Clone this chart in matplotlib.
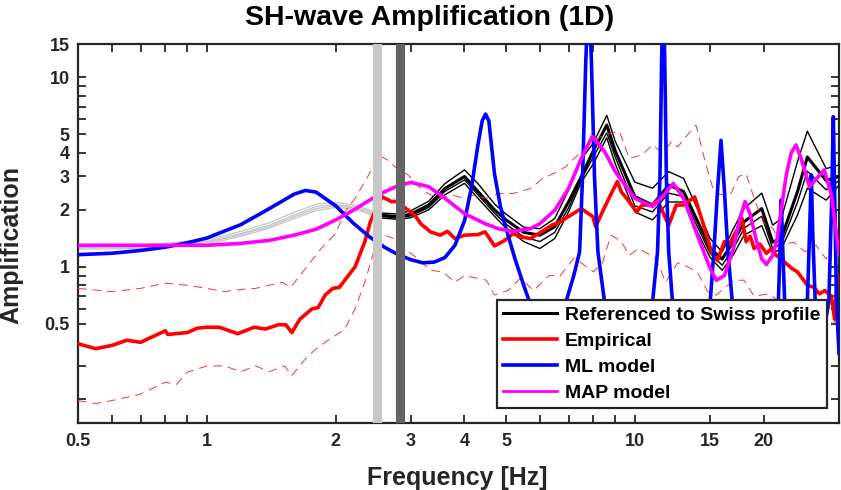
import numpy as np
import matplotlib
matplotlib.use("Agg")
import matplotlib.pyplot as plt
from matplotlib.ticker import FixedLocator, NullFormatter

plt.rcParams['font.family'] = ['Liberation Sans', 'DejaVu Sans']
plt.rcParams['font.weight'] = 'bold'

# Referenced to Swiss profile (grey below 2.5 Hz, black above)
ref_f = [0.5, 0.7, 1.0, 1.2, 1.4, 1.6, 1.8, 2.0, 2.2, 2.4, 2.5, 2.8, 3.0, 3.3, 3.6, 4.0, 4.3, 4.7,
         5.0, 5.5, 6.0, 6.5, 7.0, 7.5, 8.0, 8.6, 9.0, 10, 11, 12, 13, 14, 15, 16, 17, 18, 19.8,
         21, 22, 24, 25.3, 28, 30]
ref_mean = [1.27, 1.28, 1.36, 1.50, 1.66, 1.88, 2.08, 2.14, 2.08, 1.97, 1.88, 1.84, 1.90, 2.12, 2.59,
            3.0, 2.5, 2.0, 1.77, 1.52, 1.47, 1.63, 2.2, 3.0, 4.1, 5.6, 4.1, 2.35, 2.12, 2.7, 2.5,
            1.75, 1.25, 1.1, 1.36, 1.73, 2.03, 1.35, 1.42, 2.5, 3.8, 2.85, 3.0]
ref_hi = [1.29, 1.30, 1.39, 1.54, 1.71, 1.94, 2.14, 2.19, 2.13, 2.0, 1.93, 1.90, 1.98, 2.22, 2.75,
          3.25, 2.75, 2.15, 1.9, 1.62, 1.59, 1.80, 2.54, 3.7, 4.5, 6.3, 4.6, 2.8, 2.6, 3.18, 2.93,
          2.03, 1.41, 1.2, 1.59, 2.03, 2.45, 1.66, 1.8, 3.6, 5.2, 3.3, 3.45]
ref_mid = [1.26, 1.27, 1.34, 1.48, 1.63, 1.84, 2.03, 2.10, 2.05, 1.93, 1.85, 1.81, 1.86, 2.06, 2.5,
           2.88, 2.4, 1.92, 1.68, 1.44, 1.36, 1.52, 2.05, 2.9, 3.8, 5.1, 3.8, 2.1, 1.95, 2.45, 2.35,
           1.63, 1.18, 1.02, 1.25, 1.6, 1.85, 1.25, 1.32, 2.2, 3.2, 2.55, 2.85]
ref_lo = [1.24, 1.25, 1.32, 1.45, 1.60, 1.80, 1.98, 2.06, 2.02, 1.90, 1.82, 1.78, 1.82, 2.0, 2.4,
          2.76, 2.3, 1.85, 1.6, 1.36, 1.25, 1.41, 1.95, 2.8, 3.5, 4.8, 3.5, 1.95, 1.77, 2.2, 2.2,
          1.53, 1.12, 0.96, 1.16, 1.47, 1.65, 1.18, 1.25, 1.88, 2.6, 2.25, 2.7]

# Empirical amplification
emp_f = [0.5, 0.55, 0.6, 0.65, 0.7, 0.75, 0.8, 0.81, 0.9, 0.95, 1.0, 1.07, 1.18, 1.29, 1.37, 1.47,
         1.53, 1.58, 1.65, 1.76, 1.82, 1.89, 1.97, 2.04, 2.1, 2.22, 2.34, 2.41, 2.5, 2.57, 2.7, 2.79,
         2.92, 3.06, 3.16, 3.33, 3.51, 3.65, 3.8, 4.0, 4.3, 4.47, 4.7, 4.97, 5.2, 5.42, 5.7, 6.05,
         6.4, 6.7, 7.1, 7.5, 7.98, 8.1, 8.4, 8.7, 9.1, 9.3, 9.7, 10.1, 10.4, 11.0, 11.3, 12.0, 12.5,
         13.0, 13.8, 14.4, 15.1, 15.6, 16.2, 16.6, 17.0, 17.4, 17.8, 18.2, 18.6, 19.0, 19.6, 20.3,
         20.8, 21.4, 22.0, 22.6, 23.3, 24.0, 25.3, 26.2, 27.0, 27.8, 28.8, 29.3, 29.7, 30]
emp = [0.393, 0.37, 0.385, 0.41, 0.40, 0.43, 0.46, 0.44, 0.45, 0.475, 0.48, 0.48, 0.444, 0.48, 0.47,
       0.495, 0.495, 0.45, 0.53, 0.60, 0.61, 0.71, 0.77, 0.78, 0.85, 1.0, 1.36, 1.73, 2.08, 2.34,
       2.21, 2.22, 2.03, 1.88, 1.69, 1.53, 1.47, 1.54, 1.41, 1.47, 1.48, 1.53, 1.29, 1.38, 1.50,
       1.44, 1.41, 1.53, 1.66, 1.73, 1.88, 2.03, 1.84, 1.63, 1.95, 2.30, 2.82, 2.49, 2.21, 1.95,
       2.12, 2.12, 2.25, 1.66, 2.12, 2.12, 2.34, 1.73, 1.20, 1.08, 1.36, 1.30, 1.45, 1.59, 1.80,
       1.36, 1.45, 1.25, 1.32, 1.18, 1.24, 1.15, 1.10, 1.04, 0.98, 0.94, 0.80, 0.78, 0.72, 0.75,
       0.70, 0.53, 0.85, 0.90]
emp_up_f = [0.5, 0.6, 0.7, 0.8, 0.9, 1.0, 1.1, 1.2, 1.3, 1.5, 1.57, 1.7, 1.85, 2.0, 2.1, 2.22, 2.39,
            2.51, 2.64, 2.78, 2.95, 3.1, 3.28, 3.5, 3.75, 4.0, 4.2, 4.5, 4.8, 5.2, 5.7, 6.1, 6.6,
            6.9, 7.5, 8.0, 8.5, 9.2, 9.7, 10.4, 11.0, 11.6, 12.2, 12.6, 13.3, 13.9, 14.6, 15.3,
            16.0, 16.8, 17.5, 18.2, 19.0, 20.0, 21.0, 22.0, 23.5, 25.0, 26.5, 28.0, 29.0, 30]
emp_up = [0.77, 0.74, 0.77, 0.82, 0.80, 0.77, 0.74, 0.76, 0.77, 0.83, 0.78, 0.98, 1.25, 1.5, 1.95,
          2.30, 3.06, 3.9, 3.67, 3.31, 3.06, 2.70, 2.44, 2.30, 2.39, 2.30, 2.39, 2.30, 2.44, 2.44,
          2.59, 2.93, 3.18, 3.38, 4.06, 4.6, 5.0, 5.2, 3.74, 3.9, 4.4, 4.0, 4.58, 4.3, 5.0, 5.6,
          3.59, 2.49, 2.4, 2.45, 3.0, 3.1, 2.30, 1.7, 1.6, 1.3, 1.35, 1.2, 1.3, 1.1, 1.4, 1.35]
emp_lo_f = [0.5, 0.55, 0.6, 0.7, 0.8, 0.85, 0.9, 1.0, 1.1, 1.2, 1.3, 1.4, 1.52, 1.58, 1.7, 1.8,
            1.95, 2.0, 2.1, 2.22, 2.34, 2.48, 2.6, 2.74, 2.9, 3.1, 3.33, 3.56, 3.8, 4.0, 4.5, 4.7,
            5.05, 5.4, 5.8, 6.3, 6.7, 7.2, 7.5, 8.0, 8.4, 8.8, 9.3, 9.7, 10.2, 11.2, 11.8, 12.6,
            13.3, 14.0, 14.8, 15.5, 16.3, 17.0, 18.0, 19.0, 20.5, 22.0, 23.5, 25.0, 26.5, 28.0,
            29.0, 30]
emp_lo = [0.197, 0.19, 0.197, 0.213, 0.246, 0.24, 0.278, 0.30, 0.30, 0.28, 0.30, 0.28, 0.30, 0.267,
          0.327, 0.37, 0.42, 0.435, 0.47, 0.60, 0.83, 1.30, 1.47, 1.41, 1.25, 1.11, 0.96, 0.94,
          0.83, 0.90, 0.85, 0.71, 0.75, 0.87, 0.75, 0.90, 0.90, 1.11, 1.05, 0.94, 1.05, 1.47, 1.36,
          1.15, 1.25, 1.11, 0.83, 1.05, 1.0, 0.94, 0.74, 0.71, 0.78, 0.85, 0.85, 0.70, 0.72, 0.65,
          0.62, 0.68, 0.6, 0.55, 0.5, 0.55]

# ML model
ml_f = [0.5, 0.6, 0.7, 0.8, 0.9, 1.0, 1.2, 1.4, 1.6, 1.7, 1.8, 2.0, 2.2, 2.4, 2.6, 2.8, 3.0, 3.2,
        3.4, 3.6, 3.8, 4.0, 4.15, 4.3, 4.4, 4.48, 4.56, 4.7, 4.85, 5.0, 5.25, 5.5, 5.75, 6.0, 6.3,
        6.6, 6.9, 7.2, 7.43, 7.55, 7.68, 7.8, 7.92, 8.05, 8.2, 8.5, 8.8, 9.5, 10.3, 11.0, 11.3,
        11.45, 11.55, 11.65, 11.75, 11.85, 12.0, 12.25, 12.8, 13.5, 14.3, 15.0, 15.3, 15.6, 15.9,
        16.2, 16.5, 16.9, 17.6, 18.5, 19.5, 20.8, 21.65, 21.85, 22.0, 22.15, 22.4, 23.3, 24.4,
        25.3, 25.6, 25.85, 26.05, 26.4, 27.3, 28.4, 28.8, 29.1, 29.35, 29.6, 30]
ml = [1.16, 1.18, 1.22, 1.27, 1.34, 1.42, 1.67, 2.03, 2.42, 2.53, 2.48, 2.1, 1.70, 1.44, 1.27,
      1.16, 1.09, 1.05, 1.06, 1.12, 1.3, 1.75, 2.6, 4.4, 5.9, 6.4, 5.9, 3.1, 2.1, 1.6, 1.1, 0.8,
      0.6, 0.45, 0.38, 0.45, 0.65, 0.9, 1.2, 3.0, 12, 30, 12, 3.0, 1.2, 0.65, 0.45, 0.33, 0.4,
      0.65, 1.2, 3.0, 12, 30, 12, 3.0, 1.2, 0.65, 0.45, 0.38, 0.45, 0.65, 1.2, 2.5, 4.65, 2.5,
      1.2, 0.65, 0.45, 0.33, 0.3, 0.4, 0.65, 1.3, 2.26, 1.3, 0.65, 0.4, 0.38, 0.65, 1.5, 3.06,
      1.5, 0.65, 0.4, 0.65, 2.0, 6.2, 2.0, 0.65, 0.35]

# MAP model
map_f = [0.5, 0.7, 1.0, 1.2, 1.4, 1.6, 1.8, 2.0, 2.2, 2.4, 2.6, 2.8, 3.0, 3.3, 3.6, 4.0, 4.47, 4.8,
         5.2, 5.7, 6.0, 6.5, 7.0, 7.5, 7.95, 8.5, 9.0, 10, 11, 11.7, 12.3, 13, 14, 15, 15.5, 16.2,
         17, 17.6, 18.1, 18.6, 19.2, 19.8, 20.3, 21.0, 21.5, 22.0, 22.6, 23.2, 23.8, 24.5, 25.6,
         26.5, 27.7, 28.8, 30]
map_amp = [1.30, 1.30, 1.30, 1.33, 1.38, 1.47, 1.58, 1.77, 1.99, 2.25, 2.49, 2.68, 2.79, 2.65,
           2.30, 1.91, 1.69, 1.59, 1.54, 1.59, 1.69, 1.99, 2.59, 3.74, 4.87, 4.06, 3.18, 2.30,
           2.08, 2.4, 2.76, 2.30, 1.47, 0.98, 0.85, 0.9, 1.25, 1.8, 2.21, 1.9, 1.4, 1.1, 1.03,
           1.15, 1.4, 2.03, 3.07, 4.0, 4.4, 3.7, 2.65, 2.9, 3.25, 2.4, 1.16]

bar_freqs = [2.5, 2.83]
bar_colors = ['#c8c8c8', '#646464']

legend_labels = ['Referenced to Swiss profile', 'Empirical', 'ML model', 'MAP model']
x_major = [0.5, 1, 2, 3, 4, 5, 10, 15, 20]
x_minor = [0.6, 0.7, 0.8, 0.9, 6, 7, 8, 9, 30]
y_major = [0.5, 1, 2, 3, 4, 5, 10, 15]
y_minor = [0.2, 0.3, 0.6, 0.7, 0.8, 0.9, 6, 7, 8, 9]

fig = plt.figure(figsize=(8.41, 4.90), dpi=100)
ax = fig.add_axes([78 / 841, 67 / 490, 761 / 841, 379 / 490])
ax.set_xscale('log')
ax.set_yscale('log')

f = np.array(ref_f)
low = f <= 2.5
high = f >= 2.5
for curve in [ref_hi, ref_mid, ref_mean, ref_lo]:
    c = np.array(curve)
    ax.plot(f[low], c[low], color='#c4c4c4', lw=0.9, zorder=2)
for curve in [ref_hi, ref_mid, ref_lo]:
    c = np.array(curve)
    ax.plot(f[high], c[high], color='k', lw=1.0, zorder=3)
h_ref, = ax.plot(f[high], np.array(ref_mean)[high], color='k', lw=2.2, zorder=3)

ax.plot(emp_up_f, emp_up, color='#ff3030', lw=0.7, linestyle=(0, (9, 6)), zorder=4)
ax.plot(emp_lo_f, emp_lo, color='#ff3030', lw=0.7, linestyle=(0, (9, 6)), zorder=4)
h_emp, = ax.plot(emp_f, emp, color='#ff0000', lw=2.6, zorder=5)
h_ml, = ax.plot(ml_f, ml, color='#0000ff', lw=2.6, zorder=6)
h_map, = ax.plot(map_f, map_amp, color='#ff00ff', lw=2.6, zorder=7)

for bf, bc in zip(bar_freqs, bar_colors):
    ax.axvline(bf, color=bc, lw=6.6, zorder=8)

ax.set_xlim(0.5, 30)
ax.set_ylim(0.15, 15)
ax.xaxis.set_major_locator(FixedLocator(x_major))
ax.xaxis.set_minor_locator(FixedLocator(x_minor))
ax.yaxis.set_major_locator(FixedLocator(y_major))
ax.yaxis.set_minor_locator(FixedLocator(y_minor))
ax.set_xticklabels([f'{v:g}' for v in x_major])
ax.set_yticklabels([f'{v:g}' for v in y_major])
ax.xaxis.set_minor_formatter(NullFormatter())
ax.yaxis.set_minor_formatter(NullFormatter())
ax.tick_params(which='both', direction='in', top=True, right=True, length=5.5, width=1.3,
               color='#262626', labelsize=13, labelcolor='#262626')
ax.tick_params(axis='x', pad=7)
ax.tick_params(axis='y', pad=6)
for lab in ax.get_xticklabels() + ax.get_yticklabels():
    lab.set_fontweight('bold')
for sp in ax.spines.values():
    sp.set_linewidth(1.6)
    sp.set_color('#262626')

ax.set_xlabel('Frequency [Hz]', fontsize=18, fontweight='bold', color='#262626')
ax.set_ylabel('Amplification', fontsize=18, fontweight='bold', color='#262626')
ax.xaxis.set_label_coords(0.498, -0.113)
ax.yaxis.set_label_coords(-0.072, 0.47)
fig.text(430 / 841, 1 - 18 / 490, 'SH-wave Amplification (1D)', fontsize=20.5,
         fontweight='bold', ha='center', va='center')

leg = ax.legend([h_ref, h_emp, h_ml, h_map], legend_labels, loc='lower right',
                bbox_to_anchor=(0.984, 0.04), borderaxespad=0, fancybox=False,
                framealpha=1, edgecolor='#262626', handlelength=2.8,
                labelspacing=0.42, borderpad=0.32, handletextpad=0.4,
                prop={'weight': 'bold', 'size': 14})
leg.get_frame().set_linewidth(1.6)
leg.set_zorder(20)
leg.get_lines()[3].set_linewidth(2.0)

fig.savefig('out.png', dpi=100)
